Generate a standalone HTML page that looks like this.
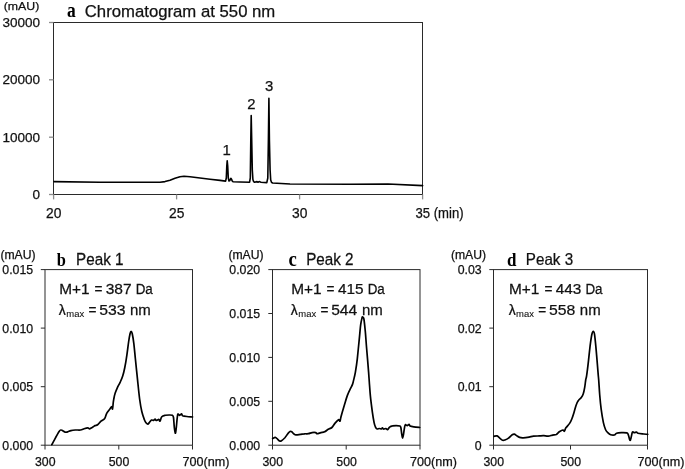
<!DOCTYPE html>
<html><head><meta charset="utf-8"><title>Figure</title>
<style>
html,body{margin:0;padding:0;background:#fff;}
body{width:685px;height:469px;overflow:hidden;font-family:"Liberation Sans",sans-serif;}
svg{display:block;will-change:transform;filter:grayscale(1);}
text{font-family:"Liberation Sans",sans-serif;fill:#111;stroke:#111;stroke-width:.25px;}
.s{stroke-width:.1px;}
.b{font-family:"Liberation Serif",serif;font-weight:bold;fill:#000;stroke:none;}
.ax{stroke:#2a2a2a;stroke-width:1;fill:none;}
.tk{stroke:#8c8c8c;stroke-width:1.3;fill:none;}
.cv{stroke:#000;stroke-width:1.7;fill:none;stroke-linejoin:round;stroke-linecap:round;}
</style></head><body>
<svg width="685" height="469" viewBox="0 0 685 469">
<rect width="685" height="469" fill="#fff"/>

<rect class="ax" x="53.5" y="22.5" width="369.0" height="172.0"/>
<line class="tk" x1="49.0" y1="194.5" x2="53.5" y2="194.5"/>
<text x="40.0" y="198.9" font-size="13.5" text-anchor="end">0</text>
<line class="tk" x1="49.0" y1="137.2" x2="53.5" y2="137.2"/>
<text x="40.0" y="141.6" font-size="13.5" text-anchor="end">10000</text>
<line class="tk" x1="49.0" y1="79.8" x2="53.5" y2="79.8"/>
<text x="40.0" y="84.2" font-size="13.5" text-anchor="end">20000</text>
<line class="tk" x1="49.0" y1="22.5" x2="53.5" y2="22.5"/>
<text x="40.0" y="26.9" font-size="13.5" text-anchor="end">30000</text>
<line class="tk" x1="53.6" y1="194.5" x2="53.6" y2="199.4"/>
<text x="53.8" y="218.4" font-size="13.8" text-anchor="middle">20</text>
<line class="tk" x1="176.6" y1="194.5" x2="176.6" y2="199.4"/>
<text x="176.8" y="218.4" font-size="13.8" text-anchor="middle">25</text>
<line class="tk" x1="299.6" y1="194.5" x2="299.6" y2="199.4"/>
<text x="299.8" y="218.4" font-size="13.8" text-anchor="middle">30</text>
<line class="tk" x1="422.6" y1="194.5" x2="422.6" y2="199.4"/>
<text x="415.5" y="218.4" font-size="13.8" textLength="48.1" lengthAdjust="spacingAndGlyphs">35 (min)</text>
<text x="3.7" y="10.1" font-size="11.5" textLength="35.6" lengthAdjust="spacingAndGlyphs">(mAU)</text>
<text class="b" font-size="19" transform="translate(66.9,17.3) scale(0.92,1.08)">a</text>
<text x="84.8" y="17.0" font-size="16.7" textLength="190.5" lengthAdjust="spacingAndGlyphs">Chromatogram at 550 nm</text>
<text x="226.7" y="155.1" font-size="14.9" text-anchor="middle">1</text>
<text x="251.3" y="108.6" font-size="14.9" text-anchor="middle">2</text>
<text x="269.2" y="90.7" font-size="14.9" text-anchor="middle">3</text>
<polyline class="cv" style="stroke-width:1.6" points="54.0,181.6 100.0,182.2 160.0,182.2 165.0,181.6 170.0,180.2 175.0,178.2 180.0,176.7 184.0,176.2 190.0,176.8 200.0,178.0 210.0,179.2 220.0,180.4 225.6,181.1 226.3,178.0 226.8,166.0 227.2,160.9 227.7,166.0 228.3,178.0 229.0,181.0 229.8,180.6 230.4,179.2 231.0,178.3 231.6,179.4 232.2,181.0 233.0,181.7 240.0,182.0 249.6,182.2 250.3,178.0 250.8,140.0 251.2,115.6 251.7,140.0 252.3,170.0 252.9,179.5 253.6,181.6 254.6,182.2 257.0,181.6 258.0,182.2 259.5,181.6 261.0,182.3 266.8,182.6 267.8,178.0 268.4,140.0 268.9,98.2 269.4,140.0 270.1,170.0 270.7,180.0 271.5,182.3 272.6,183.0 290.0,184.0 350.0,184.2 388.0,184.0 422.6,185.6"/>
<rect class="ax" x="45" y="269.6" width="147.5" height="175.59999999999997"/>
<line class="ax" x1="40.8" y1="445.2" x2="45" y2="445.2"/>
<text x="33.1" y="449.6" font-size="12.3" text-anchor="end">0.000</text>
<line class="ax" x1="40.8" y1="386.7" x2="45" y2="386.7"/>
<text x="33.1" y="391.1" font-size="12.3" text-anchor="end">0.005</text>
<line class="ax" x1="40.8" y1="328.1" x2="45" y2="328.1"/>
<text x="33.1" y="332.5" font-size="12.3" text-anchor="end">0.010</text>
<line class="ax" x1="40.8" y1="269.6" x2="45" y2="269.6"/>
<text x="33.1" y="274.0" font-size="12.3" text-anchor="end">0.015</text>
<line class="ax" x1="45.0" y1="445.2" x2="45.0" y2="449.5"/>
<text x="45.3" y="466.2" font-size="12.3" text-anchor="middle">300</text>
<line class="ax" x1="118.8" y1="445.2" x2="118.8" y2="449.5"/>
<text x="119.0" y="466.2" font-size="12.3" text-anchor="middle">500</text>
<line class="ax" x1="192.5" y1="445.2" x2="192.5" y2="449.5"/>
<text x="182.5" y="466.2" font-size="12.3" textLength="46.9" lengthAdjust="spacingAndGlyphs">700(nm)</text>
<text x="0.4" y="258.5" font-size="12" textLength="35.2" lengthAdjust="spacingAndGlyphs">(mAU)</text>
<text class="b" font-size="19" transform="translate(56.85,265.9) scale(0.863,1.045)">b</text>
<text transform="translate(76.08,264.80) scale(0.9127,1.0)" font-size="16.7">Peak 1</text>
<text transform="translate(59.17,294.30) scale(0.9931,1.0)" font-size="15.5">M+1</text>
<text transform="translate(94.62,294.30) scale(0.8780,1.0)" font-size="15.5">=</text>
<text transform="translate(105.68,294.30) scale(1.0045,1.0)" font-size="15.5">387</text>
<text transform="translate(135.63,294.30) scale(0.8656,1.0)" font-size="15.5">Da</text>
<text transform="translate(58.86,315.00) scale(0.9005,1.0)" font-size="15.5">λ</text>
<text class="s" transform="translate(66.29,317.00) scale(0.9841,1.0)" font-size="9.6">max</text>
<text transform="translate(88.42,315.00) scale(0.8780,1.0)" font-size="15.5">=</text>
<text transform="translate(99.17,315.00) scale(1.0176,1.0)" font-size="15.5">533</text>
<text transform="translate(130.03,315.00) scale(0.9677,1.0)" font-size="15.5">nm</text>
<path class="cv" d="M51.8,444.7C52.2,444.0 52.8,442.8 54.0,440.6C55.2,438.4 57.9,433.3 59.1,431.5C60.3,429.7 60.4,430.1 61.0,430.0C61.6,429.9 62.1,430.3 62.8,430.7C63.5,431.1 64.4,432.0 65.3,432.2C66.2,432.4 67.0,432.1 67.9,431.8C68.8,431.5 69.7,430.9 70.9,430.6C72.1,430.3 73.7,430.1 75.3,430.0C76.9,429.9 78.9,430.2 80.4,430.0C81.9,429.8 82.9,429.1 84.1,428.7C85.3,428.3 86.9,427.8 87.8,427.8C88.7,427.8 88.6,428.9 89.3,428.8C90.0,428.7 91.2,427.9 92.2,427.4C93.2,426.9 94.2,426.1 95.1,425.6C96.0,425.2 96.6,425.4 97.6,424.7C98.6,424.0 99.8,422.2 101.0,421.2C102.2,420.2 103.8,419.8 104.7,418.5C105.7,417.2 105.8,414.9 106.7,413.3C107.6,411.7 109.1,410.1 109.9,409.0C110.7,407.9 111.2,406.5 111.6,406.5C112.0,406.5 112.2,409.6 112.5,409.0C112.8,408.4 113.0,404.8 113.2,403.0C113.4,401.2 113.6,400.2 113.9,398.5C114.2,396.8 114.6,394.8 115.2,393.0C115.8,391.2 116.5,389.6 117.3,387.8C118.1,386.0 119.2,384.4 120.1,382.4C121.0,380.4 121.9,378.5 122.7,376.0C123.5,373.5 124.1,371.0 124.8,367.5C125.5,364.0 126.3,359.1 126.9,354.8C127.5,350.6 128.1,345.6 128.6,342.0C129.1,338.4 129.7,335.3 130.1,333.5C130.5,331.7 130.8,331.4 131.1,331.4C131.4,331.4 131.7,331.4 132.2,333.5C132.7,335.6 133.4,339.9 133.9,344.1C134.4,348.4 134.8,353.0 135.4,359.0C136.0,365.0 136.9,373.6 137.6,380.3C138.3,387.1 139.0,394.3 139.7,399.5C140.4,404.7 141.0,408.1 141.8,411.5C142.6,414.9 143.7,417.8 144.4,419.7C145.1,421.6 145.6,422.3 146.2,423.0C146.8,423.7 147.3,424.2 147.8,424.1C148.3,424.0 148.7,423.3 149.3,422.6C149.9,421.9 150.8,420.5 151.5,420.1C152.2,419.7 153.1,420.6 153.7,420.4C154.3,420.2 154.7,419.0 155.1,419.0C155.5,419.0 155.6,420.3 156.2,420.4C156.8,420.5 158.2,419.3 158.8,419.4C159.4,419.5 159.5,421.6 160.0,421.2C160.5,420.8 160.9,417.8 161.8,416.8C162.7,415.8 164.2,415.6 165.4,415.3C166.6,415.0 167.9,415.0 169.1,415.0C170.3,415.0 171.7,414.9 172.4,415.3C173.1,415.7 173.2,415.5 173.5,417.5C173.8,419.5 174.0,424.5 174.3,427.1C174.6,429.7 175.0,433.0 175.3,433.2C175.6,433.4 175.9,431.0 176.2,428.5C176.5,426.0 176.9,420.6 177.2,418.2C177.5,415.8 177.5,414.6 177.9,414.1C178.3,413.6 179.1,415.4 179.7,415.3C180.3,415.2 181.1,413.7 181.6,413.8C182.1,413.9 181.7,415.2 182.6,415.7C183.5,416.1 185.1,416.3 186.8,416.5C188.5,416.7 191.6,416.9 192.6,417.0"/>
<rect class="ax" x="272.5" y="269.6" width="147.5" height="175.59999999999997"/>
<line class="ax" x1="268.3" y1="445.2" x2="272.5" y2="445.2"/>
<text x="260.09999999999997" y="449.6" font-size="12.3" text-anchor="end">0.000</text>
<line class="ax" x1="268.3" y1="401.3" x2="272.5" y2="401.3"/>
<text x="260.09999999999997" y="405.7" font-size="12.3" text-anchor="end">0.005</text>
<line class="ax" x1="268.3" y1="357.4" x2="272.5" y2="357.4"/>
<text x="260.09999999999997" y="361.8" font-size="12.3" text-anchor="end">0.010</text>
<line class="ax" x1="268.3" y1="313.5" x2="272.5" y2="313.5"/>
<text x="260.09999999999997" y="317.9" font-size="12.3" text-anchor="end">0.015</text>
<line class="ax" x1="268.3" y1="269.6" x2="272.5" y2="269.6"/>
<text x="260.09999999999997" y="274.0" font-size="12.3" text-anchor="end">0.020</text>
<line class="ax" x1="272.5" y1="445.2" x2="272.5" y2="449.5"/>
<text x="272.8" y="466.2" font-size="12.3" text-anchor="middle">300</text>
<line class="ax" x1="346.2" y1="445.2" x2="346.2" y2="449.5"/>
<text x="346.6" y="466.2" font-size="12.3" text-anchor="middle">500</text>
<line class="ax" x1="420.0" y1="445.2" x2="420.0" y2="449.5"/>
<text x="410.0" y="466.2" font-size="12.3" textLength="46.9" lengthAdjust="spacingAndGlyphs">700(nm)</text>
<text x="228.4" y="258.5" font-size="12" textLength="35.2" lengthAdjust="spacingAndGlyphs">(mAU)</text>
<text class="b" font-size="19" transform="translate(288.45,265.9) scale(0.984,1.064)">c</text>
<text transform="translate(306.18,264.80) scale(0.9127,1.0)" font-size="16.7">Peak 2</text>
<text transform="translate(291.17,294.30) scale(0.9931,1.0)" font-size="15.5">M+1</text>
<text transform="translate(326.62,294.30) scale(0.8780,1.0)" font-size="15.5">=</text>
<text transform="translate(337.92,294.30) scale(0.9919,1.0)" font-size="15.5">415</text>
<text transform="translate(367.63,294.30) scale(0.8656,1.0)" font-size="15.5">Da</text>
<text transform="translate(290.86,315.00) scale(0.9005,1.0)" font-size="15.5">λ</text>
<text class="s" transform="translate(298.29,317.00) scale(0.9841,1.0)" font-size="9.6">max</text>
<text transform="translate(320.42,315.00) scale(0.8780,1.0)" font-size="15.5">=</text>
<text transform="translate(331.18,315.00) scale(1.0081,1.0)" font-size="15.5">544</text>
<text transform="translate(362.02,315.00) scale(0.9677,1.0)" font-size="15.5">nm</text>
<path class="cv" d="M272.6,438.5C273.1,438.3 274.5,437.3 275.3,437.4C276.1,437.5 276.8,438.5 277.5,439.1C278.2,439.7 279.0,440.7 279.7,441.0C280.4,441.3 280.6,441.2 281.5,440.7C282.4,440.2 283.8,439.0 284.9,437.8C285.9,436.6 286.9,434.8 287.8,433.7C288.7,432.6 289.3,431.8 290.0,431.5C290.7,431.2 291.2,431.4 291.8,431.8C292.4,432.2 293.0,433.2 293.7,433.7C294.4,434.2 294.8,434.8 295.9,434.9C297.0,435.0 298.8,434.6 300.3,434.4C301.8,434.2 303.4,433.9 304.7,433.8C306.0,433.7 307.2,433.9 308.4,433.7C309.6,433.5 310.9,432.8 312.1,432.6C313.3,432.4 314.9,432.4 315.7,432.6C316.5,432.8 316.3,433.7 317.2,433.7C318.1,433.7 319.7,432.9 320.9,432.6C322.1,432.3 323.4,432.4 324.6,431.8C325.8,431.2 327.0,430.0 328.2,429.3C329.4,428.6 330.8,428.5 331.9,427.5C333.0,426.5 333.8,424.7 334.9,423.4C336.0,422.1 337.6,420.1 338.5,419.7C339.4,419.3 339.6,421.7 340.0,421.2C340.4,420.7 340.3,419.5 341.0,416.8C341.7,414.1 343.3,408.6 344.4,405.0C345.5,401.4 346.4,398.1 347.4,395.4C348.4,392.7 349.4,390.6 350.3,388.8C351.2,387.0 352.0,385.8 352.5,384.4C353.0,383.0 353.0,382.7 353.5,380.6C354.0,378.6 354.8,375.7 355.4,372.1C356.0,368.5 356.7,364.2 357.3,358.8C357.9,353.4 358.6,345.5 359.2,339.8C359.8,334.1 360.2,328.3 360.7,324.7C361.2,321.1 361.7,319.3 362.0,318.0C362.3,316.7 362.3,316.9 362.6,317.1C362.9,317.3 363.5,316.8 363.9,319.0C364.3,321.2 364.7,325.3 365.2,330.4C365.7,335.4 366.1,342.4 366.7,349.3C367.3,356.2 368.2,366.7 368.6,372.1C369.0,377.6 369.0,378.0 369.3,382.0C369.6,386.0 369.9,391.1 370.4,396.2C370.9,401.3 371.8,408.0 372.4,412.4C373.0,416.8 373.6,420.1 374.1,422.6C374.6,425.1 375.1,426.3 375.6,427.4C376.1,428.5 376.5,428.8 377.1,429.0C377.7,429.2 378.6,428.5 379.3,428.5C380.0,428.5 381.0,429.1 381.5,429.0C382.0,428.9 382.0,427.8 382.4,427.8C382.8,427.8 383.1,429.0 383.7,429.1C384.3,429.2 385.2,428.4 385.9,428.5C386.5,428.6 387.0,429.8 387.6,429.6C388.2,429.4 388.8,427.7 389.6,427.1C390.4,426.5 391.4,426.1 392.5,425.9C393.6,425.6 395.0,425.6 396.2,425.6C397.4,425.6 399.1,425.6 399.9,426.0C400.7,426.4 400.6,426.4 400.9,427.8C401.2,429.2 401.5,432.7 401.8,434.4C402.1,436.1 402.3,438.1 402.6,438.1C402.9,438.1 403.2,436.2 403.5,434.4C403.8,432.6 404.3,428.7 404.6,427.1C404.9,425.5 405.0,424.9 405.4,424.6C405.8,424.4 406.6,425.6 407.2,425.6C407.8,425.6 408.6,424.3 409.1,424.4C409.6,424.5 409.3,425.6 410.1,426.0C410.9,426.4 412.2,426.6 413.8,426.8C415.4,427.1 418.7,427.4 419.7,427.5"/>
<rect class="ax" x="493.5" y="269.6" width="154.0" height="175.59999999999997"/>
<line class="ax" x1="489.3" y1="445.2" x2="493.5" y2="445.2"/>
<text x="481.7" y="449.6" font-size="12.3" text-anchor="end">0</text>
<line class="ax" x1="489.3" y1="386.7" x2="493.5" y2="386.7"/>
<text x="481.7" y="391.1" font-size="12.3" text-anchor="end">0.01</text>
<line class="ax" x1="489.3" y1="328.1" x2="493.5" y2="328.1"/>
<text x="481.7" y="332.5" font-size="12.3" text-anchor="end">0.02</text>
<line class="ax" x1="489.3" y1="269.6" x2="493.5" y2="269.6"/>
<text x="481.7" y="274.0" font-size="12.3" text-anchor="end">0.03</text>
<line class="ax" x1="493.5" y1="445.2" x2="493.5" y2="449.5"/>
<text x="493.8" y="466.2" font-size="12.3" text-anchor="middle">300</text>
<line class="ax" x1="570.5" y1="445.2" x2="570.5" y2="449.5"/>
<text x="570.8" y="466.2" font-size="12.3" text-anchor="middle">500</text>
<line class="ax" x1="647.5" y1="445.2" x2="647.5" y2="449.5"/>
<text x="637.5" y="466.2" font-size="12.3" textLength="46.9" lengthAdjust="spacingAndGlyphs">700(nm)</text>
<text x="450.9" y="258.5" font-size="12" textLength="35.2" lengthAdjust="spacingAndGlyphs">(mAU)</text>
<text class="b" font-size="19" transform="translate(507.02,265.9) scale(0.896,1.045)">d</text>
<text transform="translate(525.78,264.80) scale(0.9112,1.0)" font-size="16.7">Peak 3</text>
<text transform="translate(508.97,294.30) scale(0.9931,1.0)" font-size="15.5">M+1</text>
<text transform="translate(544.42,294.30) scale(0.8780,1.0)" font-size="15.5">=</text>
<text transform="translate(555.72,294.30) scale(0.9919,1.0)" font-size="15.5">443</text>
<text transform="translate(585.43,294.30) scale(0.8656,1.0)" font-size="15.5">Da</text>
<text transform="translate(508.66,315.00) scale(0.9005,1.0)" font-size="15.5">λ</text>
<text class="s" transform="translate(516.09,317.00) scale(0.9841,1.0)" font-size="9.6">max</text>
<text transform="translate(538.22,315.00) scale(0.8780,1.0)" font-size="15.5">=</text>
<text transform="translate(548.97,315.00) scale(1.0176,1.0)" font-size="15.5">558</text>
<text transform="translate(579.82,315.00) scale(0.9677,1.0)" font-size="15.5">nm</text>
<path class="cv" d="M494.1,436.3C494.6,436.2 496.2,435.6 497.1,435.9C498.0,436.2 498.8,437.4 499.7,438.1C500.6,438.8 501.7,440.0 502.6,440.3C503.5,440.6 503.9,440.4 504.9,440.0C505.9,439.6 507.3,439.0 508.5,438.1C509.7,437.2 511.2,435.4 512.2,434.7C513.2,434.0 513.7,434.0 514.4,434.1C515.1,434.2 515.7,435.1 516.6,435.6C517.5,436.2 518.5,437.0 519.6,437.4C520.7,437.8 521.6,437.9 523.2,437.8C524.8,437.8 527.4,437.4 529.1,437.1C530.8,436.8 531.8,436.4 533.5,436.2C535.2,436.0 537.7,436.0 539.4,435.9C541.1,435.8 542.3,435.6 543.8,435.7C545.3,435.8 546.7,436.3 548.2,436.2C549.7,436.1 551.2,435.4 552.6,435.1C554.0,434.8 555.2,434.9 556.3,434.4C557.4,433.8 558.2,432.5 559.3,431.8C560.4,431.1 562.0,430.1 562.9,430.0C563.8,429.9 563.9,431.6 564.4,431.2C564.9,430.8 565.0,429.1 565.9,427.8C566.8,426.5 568.6,424.9 569.6,423.4C570.6,421.9 571.1,420.8 571.8,419.0C572.5,417.2 573.3,414.7 574.0,412.4C574.7,410.1 575.5,407.0 576.2,405.0C576.9,403.0 577.5,401.8 578.4,400.6C579.2,399.4 580.5,398.7 581.3,397.6C582.1,396.5 582.6,395.7 583.2,394.0C583.8,392.3 584.3,389.7 584.7,387.4C585.1,385.1 585.4,381.9 585.7,380.0C586.0,378.1 586.1,379.1 586.6,375.9C587.1,372.7 587.9,366.1 588.5,360.7C589.1,355.3 589.8,348.0 590.4,343.6C591.0,339.2 591.4,336.2 591.9,334.2C592.4,332.1 592.8,331.3 593.2,331.3C593.6,331.3 594.0,331.2 594.5,334.2C595.0,337.2 595.5,343.0 596.1,349.3C596.7,355.6 597.6,367.0 598.0,372.1C598.4,377.2 598.4,376.2 598.7,380.0C599.0,383.8 599.3,389.8 599.7,394.7C600.1,399.6 600.6,404.8 601.2,409.4C601.8,414.0 602.7,419.2 603.4,422.6C604.1,426.0 604.9,428.0 605.6,429.7C606.3,431.4 606.9,431.8 607.8,432.6C608.6,433.4 609.6,434.3 610.7,434.7C611.8,435.1 613.4,435.2 614.4,435.0C615.4,434.8 615.4,433.6 616.6,433.2C617.8,432.8 620.1,432.7 621.8,432.6C623.5,432.6 625.8,432.5 626.9,432.9C628.0,433.3 627.9,433.9 628.4,435.1C628.9,436.3 629.5,439.8 629.9,440.3C630.3,440.8 630.6,439.5 631.0,438.1C631.4,436.8 631.9,433.1 632.4,432.2C632.9,431.3 633.6,432.6 634.3,432.6C635.0,432.6 635.9,432.0 636.5,432.1C637.1,432.2 636.7,432.9 637.9,433.2C639.1,433.5 642.2,433.8 643.8,434.0C645.4,434.2 647.1,434.3 647.7,434.4"/>
</svg></body></html>
